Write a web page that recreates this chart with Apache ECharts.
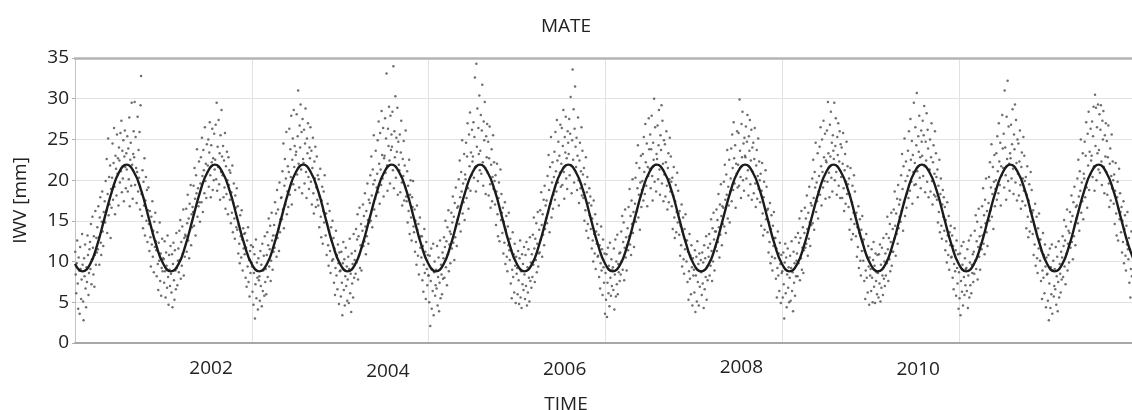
<!DOCTYPE html>
<html>
<head>
<meta charset="utf-8">
<script src="https://cdn.jsdelivr.net/npm/echarts@6/dist/echarts.min.js"></script>
<style>
html,body{margin:0;padding:0;background:#fff;}
#chart{width:1132px;height:410px;}
</style>
</head>
<body>
<div id="chart"></div>
<script>
// Station / labels
const chartTitle = 'MATE';
const xTitle = 'TIME';
const yTitle = 'IWV [mm]';
const xTickLabels = ['2002', '2004', '2006', '2008', '2010'];
const yMin = 0, yMax = 35, yStep = 5;
const tStart = 2000, tEnd = 2011.96;

// IWV observations [mm], 15 samples per month, Jan..Dec of each year
const iwv2000 = [
11.2,8.4,6.1,9.8,12.6,7.3,4.2,10.5,8.9,3.6,11.8,9.1,5.4,7.8,13.4,
9.6,5.1,2.8,10.4,8.2,12.1,6.7,4.4,9.3,7.5,13.2,10.8,5.9,8.6,11.5,
12.4,9.1,14.6,7.2,10.3,15.5,11.7,8.4,13.1,6.9,10.8,16.2,9.6,12.9,11.1,
14.2,11.5,16.8,13.0,9.6,15.4,17.9,12.3,10.8,14.9,18.6,13.7,11.9,16.1,15.0,
17.4,14.8,19.9,16.2,22.6,13.5,18.3,25.1,15.7,20.4,17.0,21.8,12.9,18.9,16.6,
20.3,24.5,17.6,22.1,26.4,19.2,15.8,23.0,21.4,18.1,25.6,20.8,22.7,16.9,24.0,
22.4,19.7,25.8,21.1,27.3,18.5,23.6,20.2,24.9,17.4,22.9,26.1,21.6,19.0,23.3,
21.3,25.4,18.6,23.9,20.1,27.7,16.8,22.5,24.6,19.3,29.5,21.9,17.7,23.2,26.0,
22.8,29.6,19.4,25.3,21.5,17.2,21.0,27.8,18.6,23.7,20.3,25.9,16.4,29.2,32.8,
18.3,15.6,21.2,14.1,19.8,16.9,22.7,13.2,17.5,20.4,15.0,18.8,12.4,16.3,19.1,
14.6,11.3,16.2,13.0,9.4,15.5,12.1,17.4,10.6,13.8,8.7,14.9,11.8,16.0,12.5,
11.4,8.2,13.6,9.7,6.5,12.3,10.1,14.8,7.6,11.0,5.8,9.2,12.8,8.8,10.4
];
const iwv2001 = [
10.3,7.4,12.5,8.8,5.6,11.1,9.5,6.8,13.2,8.1,4.7,10.8,9.0,7.0,11.9,
8.5,6.2,10.9,4.4,9.7,12.3,7.7,5.3,11.4,8.9,6.6,13.5,9.2,7.1,10.1,
11.6,8.7,13.8,10.2,15.1,7.9,12.4,9.5,14.3,11.0,16.4,8.3,12.9,10.6,13.3,
13.1,16.5,11.2,14.7,18.2,12.6,15.3,10.4,17.1,13.9,19.4,12.0,15.8,14.2,16.7,
16.1,19.3,14.4,21.5,17.7,13.2,20.6,18.4,23.8,15.5,19.0,16.8,22.3,17.3,14.9,
19.6,22.8,17.3,25.2,20.5,16.1,23.7,21.2,18.4,26.5,19.9,22.0,17.8,24.4,20.9,
21.8,25.0,19.2,23.4,27.1,20.6,17.9,24.3,22.2,26.3,18.8,22.7,20.0,25.7,21.3,
22.5,26.8,20.1,29.5,18.7,24.1,21.6,27.4,19.5,23.3,17.6,25.5,21.0,28.6,22.9,
20.6,24.2,17.9,22.4,19.1,25.8,16.5,21.7,18.3,23.5,20.0,15.8,22.8,19.4,21.2,
17.6,20.9,14.7,18.5,16.0,21.8,13.6,17.2,19.6,15.3,12.8,18.1,16.6,14.2,19.0,
13.9,16.8,11.0,14.5,12.2,9.8,15.7,13.1,10.5,16.3,12.7,8.9,14.1,11.6,13.4,
10.9,13.5,8.0,11.7,6.9,12.6,9.4,14.2,7.5,10.2,5.7,11.3,8.6,12.0,9.9
];
const iwv2002 = [
9.4,6.3,11.8,4.7,8.6,10.9,3.0,7.2,12.7,5.5,9.9,8.0,4.1,10.4,7.7,
8.2,5.2,11.3,7.0,9.6,4.5,12.2,6.4,8.9,10.7,5.8,13.1,7.5,9.1,6.0,
10.8,13.6,8.1,12.0,15.3,9.4,11.5,14.4,7.6,10.1,16.0,12.6,9.0,13.2,11.2,
14.5,11.7,17.3,13.2,15.9,10.6,18.8,12.9,16.4,14.0,11.3,19.7,13.6,15.2,17.8,
17.9,15.2,21.1,16.4,24.5,14.1,19.3,22.6,17.0,20.2,25.9,15.8,18.6,21.7,16.7,
21.0,26.3,18.2,23.8,20.4,27.9,17.0,22.5,25.1,19.5,28.6,21.6,24.2,18.8,23.1,
23.5,28.1,20.7,25.4,31.0,22.0,19.1,26.7,24.0,29.3,21.3,25.9,18.4,27.5,22.6,
22.1,26.2,19.6,24.5,28.8,21.0,17.8,25.1,23.3,27.0,20.4,18.9,24.0,22.7,26.5,
19.8,23.6,17.0,21.5,25.2,18.4,15.9,22.3,20.2,24.1,16.7,19.1,22.9,17.6,20.6,
16.9,20.1,14.2,18.0,21.4,15.5,13.0,17.5,19.2,12.2,16.2,18.6,14.8,20.6,15.9,
13.2,15.9,10.8,14.6,17.1,12.0,9.5,13.8,16.2,11.3,8.6,14.2,12.6,10.1,15.0,
10.3,12.9,7.4,11.6,5.9,9.2,13.8,8.3,10.8,6.6,12.1,9.8,4.8,11.1,8.8
];
const iwv2003 = [
8.9,5.7,11.2,7.4,3.4,9.8,12.4,6.5,10.3,4.6,8.2,11.7,7.0,9.4,5.2,
7.8,10.6,4.9,9.1,12.8,6.1,8.5,3.8,11.0,7.3,9.7,5.6,13.4,8.0,10.2,
11.3,8.5,14.0,9.9,12.7,15.8,7.8,13.1,10.7,16.6,9.2,12.0,14.6,8.9,11.8,
13.8,17.0,11.9,15.6,12.5,18.4,14.3,10.9,16.2,13.1,19.6,15.1,12.2,17.6,14.8,
17.2,20.6,15.0,22.9,18.1,14.2,21.3,19.5,25.5,16.4,20.0,17.7,23.6,15.6,19.1,
20.8,24.9,18.5,27.2,22.0,17.1,25.8,21.3,19.4,28.5,23.1,20.2,26.4,18.0,22.7,
23.0,27.6,20.9,25.1,33.1,21.8,18.7,26.3,24.2,29.0,22.4,19.6,27.9,23.7,25.6,
24.1,28.4,21.2,34.0,19.0,26.0,22.8,30.3,20.3,25.2,23.5,28.9,18.2,24.7,21.9,
21.2,25.6,18.5,23.4,27.3,19.7,16.9,22.6,20.5,24.8,17.5,21.8,19.2,26.1,18.0,
17.4,21.1,14.8,19.3,16.2,22.5,13.4,18.2,20.0,15.4,12.6,17.9,16.7,19.9,14.3,
13.6,16.4,11.2,15.0,12.4,9.6,16.9,13.9,10.7,14.6,8.4,12.9,15.4,11.7,13.1,
10.5,13.1,7.7,11.9,6.3,9.6,14.0,8.6,11.2,5.4,12.4,9.1,7.1,10.8,8.3
];
const iwv2004 = [
8.3,5.0,10.7,2.1,7.6,11.6,4.2,9.1,6.4,12.2,3.4,8.7,10.0,5.8,7.1,
9.0,6.7,11.9,4.6,8.1,10.5,3.9,7.4,12.6,5.5,9.6,8.4,6.0,11.1,7.9,
10.4,13.0,8.0,11.8,15.0,9.3,12.5,7.1,14.2,10.9,16.3,8.8,12.1,13.7,9.8,
13.4,16.0,11.6,14.8,18.0,12.3,15.5,10.2,17.2,13.0,19.1,14.4,11.9,16.6,15.2,
16.8,20.1,14.6,22.4,17.9,13.7,21.0,18.6,24.9,15.9,19.6,17.3,23.2,15.1,20.7,
20.1,24.6,17.8,22.9,27.0,19.0,16.5,25.6,21.7,28.3,18.7,23.4,20.6,26.2,22.3,
22.9,27.1,20.3,25.3,32.6,21.6,18.6,34.3,24.1,28.8,19.9,26.4,23.2,30.4,21.2,
23.6,28.0,20.8,26.1,31.7,22.2,19.3,27.2,24.9,29.6,21.5,18.3,25.4,22.8,26.9,
20.9,24.7,18.1,22.7,26.6,19.5,16.6,21.9,23.8,17.4,20.4,25.5,18.9,22.2,19.9,
17.0,20.6,14.5,18.6,22.0,15.8,13.1,17.8,19.7,12.5,16.4,21.3,15.1,18.3,16.0,
13.5,16.6,11.0,14.9,12.3,17.3,9.7,13.9,15.6,10.6,8.8,14.3,12.0,16.0,11.4,
10.2,12.8,7.3,11.4,5.5,9.0,13.6,8.1,10.9,6.2,12.2,9.5,4.9,10.6,8.5
];
const iwv2005 = [
9.2,6.0,11.3,7.7,4.8,10.4,12.6,5.6,8.8,4.3,10.9,7.2,9.7,6.5,11.8,
8.4,5.4,10.8,7.0,12.4,4.6,9.3,6.2,11.5,8.0,5.1,13.0,7.6,9.9,6.8,
10.9,8.1,13.3,9.6,15.4,11.6,7.5,12.8,10.2,14.7,8.7,12.2,16.1,9.4,11.0,
13.9,11.1,16.3,12.7,18.5,14.5,10.6,15.8,13.3,17.6,12.0,19.3,14.0,16.9,15.3,
17.5,14.7,20.5,16.0,23.1,18.8,13.6,21.6,17.1,25.3,15.4,19.7,22.2,16.5,18.2,
20.4,23.5,17.6,25.9,21.1,18.6,27.4,22.4,19.7,24.7,16.9,23.0,20.9,26.8,19.2,
22.0,26.4,19.4,24.2,28.6,21.0,17.7,25.3,23.4,27.8,20.2,22.7,18.9,26.0,24.6,
23.2,27.5,20.6,25.7,30.2,21.8,18.4,24.9,33.6,22.5,28.7,19.7,26.3,31.5,24.1,
21.6,25.2,18.8,23.0,27.7,20.0,17.2,22.4,24.6,19.0,21.1,26.5,18.1,23.6,20.7,
17.8,21.5,15.0,19.5,16.3,22.8,13.8,18.5,20.4,14.6,12.9,17.2,19.0,15.7,18.0,
14.0,16.9,11.6,15.3,12.6,10.0,17.5,13.4,11.0,15.8,9.1,13.7,12.2,14.6,10.6,
10.7,13.3,8.1,12.0,6.7,9.8,14.3,8.9,11.5,5.9,12.7,9.3,7.4,11.0,3.6
];
const iwv2006 = [
8.6,5.3,10.9,3.2,7.4,11.7,6.1,9.5,4.5,12.3,8.0,5.8,10.3,7.0,9.0,
9.3,6.5,11.6,4.1,8.4,12.7,5.7,10.0,7.2,13.3,6.0,9.7,8.7,11.0,7.6,
11.1,8.4,13.7,10.0,15.6,9.0,12.4,14.8,7.7,11.7,16.4,10.5,13.0,8.9,12.0,
14.1,11.4,16.7,13.1,18.9,12.1,15.6,10.8,17.5,14.6,20.1,13.5,16.1,11.8,15.0,
17.1,20.3,14.9,22.1,16.2,19.0,24.3,15.4,18.2,21.5,13.9,19.7,23.0,16.7,18.8,
19.9,23.2,17.5,25.3,21.0,18.3,26.9,22.2,19.3,24.5,16.8,21.6,20.5,27.6,23.8,
21.4,25.6,19.0,23.8,27.9,20.5,17.5,24.6,22.5,30.0,19.8,26.5,21.9,18.6,23.2,
22.6,26.7,20.1,24.3,28.6,21.3,18.2,25.5,23.7,29.2,19.6,27.3,22.0,17.4,24.9,
20.7,24.4,18.0,22.2,26.0,19.3,16.4,21.5,23.3,17.3,20.1,25.2,18.6,22.9,19.8,
16.8,20.3,14.0,18.1,21.6,15.4,12.9,17.4,19.4,13.6,16.1,20.9,14.8,18.7,15.9,
13.3,16.2,10.7,14.4,12.0,17.0,9.4,13.7,15.4,10.3,8.5,14.0,11.5,15.8,12.6,
10.0,12.6,7.5,11.2,5.3,8.8,13.4,7.9,10.7,6.0,12.0,9.3,4.6,10.4,8.3
];
const iwv2007 = [
9.0,6.2,11.4,3.8,8.3,10.6,5.1,12.5,7.5,9.7,4.6,11.0,6.9,8.8,10.2,
8.7,5.9,11.1,7.3,9.9,4.3,12.0,6.6,10.4,8.1,13.1,5.3,9.4,7.7,11.7,
10.6,13.4,8.3,12.2,9.5,15.2,11.3,7.6,14.1,10.0,16.0,12.7,8.9,13.7,11.8,
13.7,16.4,11.3,15.1,12.4,18.3,14.2,10.5,17.0,13.3,19.5,15.6,12.0,16.8,14.6,
16.6,19.8,14.3,21.9,17.6,13.5,20.7,18.2,23.7,15.3,19.2,16.9,22.5,14.8,18.6,
20.2,23.9,17.4,25.6,21.5,18.8,27.1,22.7,19.6,24.3,16.6,22.0,20.8,26.0,19.1,
21.9,25.8,19.3,29.9,23.6,20.4,17.8,26.9,22.8,28.4,20.0,24.5,18.7,25.2,23.0,
22.8,26.6,20.2,24.7,28.0,21.2,18.1,25.4,23.6,27.4,19.5,22.4,26.2,17.6,24.0,
21.0,24.6,18.4,22.6,26.4,19.6,16.7,21.8,23.7,17.7,20.5,25.1,18.9,22.3,20.0,
17.3,20.8,14.4,18.7,22.1,15.9,13.2,17.9,19.8,13.9,16.5,21.2,15.2,19.2,16.3,
13.6,16.5,11.1,14.8,12.4,17.2,9.8,14.0,15.7,10.6,8.9,14.4,11.9,16.1,12.9,
10.4,12.9,7.9,11.6,5.6,9.2,13.7,8.3,11.0,6.4,12.3,9.7,4.9,10.8,8.6
];
const iwv2008 = [
8.8,5.6,11.1,7.2,3.0,9.9,12.2,6.1,10.5,4.4,8.4,11.6,6.8,9.3,5.0,
8.0,10.7,5.2,9.2,12.5,6.4,8.7,3.9,11.2,7.4,9.8,5.8,13.0,8.2,10.1,
11.0,8.2,13.5,9.8,12.3,15.3,7.7,12.9,10.4,16.2,9.0,11.7,14.2,8.6,11.4,
13.5,16.6,11.7,15.3,12.2,18.1,14.0,10.7,16.0,12.8,19.2,14.8,11.9,17.2,14.5,
16.9,20.2,14.7,22.5,17.8,13.9,21.0,19.1,24.6,16.1,19.7,17.4,23.3,15.3,18.6,
20.5,24.1,18.2,26.5,21.7,16.9,25.0,21.0,19.1,27.3,22.8,19.9,25.7,17.7,22.4,
22.2,26.1,19.8,29.6,23.3,20.9,17.9,26.8,22.9,28.4,20.3,24.6,18.6,25.5,23.6,
22.6,29.5,20.0,24.2,27.6,21.0,18.2,25.3,23.1,27.0,19.3,22.3,26.0,17.8,24.4,
20.4,24.0,17.8,22.0,25.8,19.0,16.2,21.2,23.2,17.1,19.8,24.7,18.3,21.7,19.5,
16.7,20.2,13.9,18.2,21.5,15.2,12.7,17.3,19.3,13.4,16.0,20.6,14.6,18.6,15.7,
13.1,16.0,10.6,14.2,11.8,16.8,9.2,13.5,15.2,10.1,8.3,13.9,11.3,15.6,12.4,
10.1,12.7,7.6,11.3,5.4,8.9,13.4,8.0,10.6,6.2,11.9,9.4,4.7,10.5,8.3
];
const iwv2009 = [
9.1,6.4,11.5,8.0,5.0,10.2,12.4,6.9,9.5,4.9,11.0,7.6,8.7,6.0,10.8,
8.6,5.6,10.9,7.3,12.1,5.1,9.6,6.8,11.7,8.3,5.9,12.9,7.9,10.0,7.0,
11.0,8.3,13.4,9.8,15.5,11.5,7.6,12.9,10.3,14.6,8.8,12.4,16.0,9.5,11.2,
14.0,11.2,16.4,12.8,18.6,14.4,10.7,15.9,13.4,17.7,12.2,19.4,14.1,17.0,15.5,
17.6,14.9,20.6,16.2,23.2,18.9,13.8,21.7,17.3,25.1,15.6,19.9,22.3,16.6,18.4,
20.5,23.6,17.8,26.0,21.2,18.7,27.5,22.5,19.8,24.8,17.1,23.1,21.0,29.5,19.4,
22.1,26.5,19.5,24.3,30.7,21.1,17.9,25.4,23.5,27.9,20.3,22.8,19.0,26.1,24.7,
23.0,27.3,20.5,25.5,29.1,21.7,18.5,24.7,22.4,28.2,19.8,26.2,23.9,17.9,21.2,
21.3,25.0,18.6,22.8,27.0,19.9,17.0,22.2,24.3,18.2,20.8,26.0,18.0,23.3,20.4,
17.6,21.3,14.8,19.3,16.1,22.5,13.6,18.3,20.2,14.4,12.8,17.0,18.8,15.5,17.9,
13.8,16.7,11.4,15.1,12.5,9.9,17.3,13.2,10.8,15.6,9.0,13.6,12.0,14.4,10.5,
10.6,13.2,8.0,11.9,6.6,9.7,14.1,8.8,11.4,5.8,12.6,9.2,7.3,10.9,4.2
];
const iwv2010 = [
8.7,5.5,11.0,3.4,7.6,11.9,6.3,9.6,4.6,12.4,8.1,5.9,10.4,7.1,9.1,
9.2,6.4,11.5,4.3,8.3,12.6,5.6,9.9,7.1,13.2,6.1,9.6,8.6,10.9,7.5,
11.2,8.5,13.8,10.1,15.7,9.1,12.5,14.9,7.8,11.8,16.5,10.6,13.1,9.0,12.1,
14.2,11.5,16.8,13.2,19.0,12.2,15.7,10.9,17.6,14.7,20.2,13.6,16.2,11.9,15.1,
17.2,20.4,15.0,22.2,16.3,19.1,24.4,15.5,18.3,21.6,14.0,19.8,23.1,16.8,18.9,
20.0,23.3,17.6,25.4,21.1,18.4,27.0,22.3,19.4,24.6,16.9,21.7,20.6,28.0,23.9,
21.5,25.7,19.1,31.0,24.0,20.6,17.6,27.8,22.6,32.2,19.9,26.6,22.0,18.7,23.3,
22.7,26.8,20.2,24.4,28.7,21.4,18.3,25.6,23.8,29.3,19.7,27.4,22.1,17.5,25.0,
20.8,24.5,18.1,22.3,26.1,19.4,16.5,21.6,23.4,17.4,20.2,25.3,18.7,23.0,19.9,
16.9,20.4,14.1,18.2,21.7,15.5,13.0,17.5,19.5,13.7,16.2,21.0,14.9,18.8,16.0,
13.4,16.3,10.8,14.5,12.1,17.1,9.5,13.8,15.5,10.4,8.6,14.1,11.6,15.9,12.7,
10.1,12.7,7.6,11.3,5.4,8.9,13.5,8.0,10.8,6.1,12.1,9.4,4.4,10.5,8.4
];
const iwv2011 = [
8.5,5.2,10.8,2.8,7.3,11.6,4.3,9.3,6.0,12.1,3.6,8.9,10.1,5.7,7.0,
9.1,6.6,11.8,4.7,8.2,10.6,3.9,7.5,12.5,5.6,9.7,8.5,6.2,11.2,7.8,
10.5,13.1,8.1,11.9,15.1,9.4,12.6,7.2,14.3,11.0,16.4,8.9,12.2,13.8,9.9,
13.5,16.1,11.7,14.9,18.1,12.4,15.6,10.3,17.3,13.1,19.2,14.5,12.0,16.7,15.3,
16.9,20.2,14.7,22.5,18.0,13.8,21.1,18.7,25.0,16.0,19.7,17.4,23.3,15.2,20.8,
20.2,24.7,17.9,23.0,27.1,19.1,16.6,25.7,21.8,28.4,18.8,23.5,20.7,26.3,22.4,
23.0,27.2,20.4,25.4,29.0,21.7,18.7,30.5,24.2,28.9,20.0,26.5,23.3,29.3,21.3,
23.7,28.1,20.9,26.2,29.2,22.3,19.4,27.3,25.0,28.5,21.6,18.4,25.5,22.9,27.0,
21.0,24.8,18.2,22.8,26.7,19.6,16.7,22.0,23.9,17.5,20.5,25.6,19.0,22.3,20.0,
17.1,20.7,14.6,18.7,22.1,15.9,13.2,17.9,19.8,12.6,16.5,21.4,15.2,18.4,16.1,
13.6,16.7,11.1,15.0,12.4,17.4,9.8,14.0,15.7,10.7,8.9,14.4,12.1,16.1,11.5,
10.3,12.9,7.4,11.5,5.6,9.1,13.7,8.2,11.0,6.3,12.3,9.6,5.0,10.7,8.6
];
const obsYears = [2000, 2001, 2002, 2003, 2004, 2005, 2006, 2007, 2008, 2009, 2010, 2011];
const obsByYear = [iwv2000, iwv2001, iwv2002, iwv2003, iwv2004, iwv2005, iwv2006, iwv2007, iwv2008, iwv2009, iwv2010, iwv2011];

// Fitted seasonal curve [mm], read at the start of each month from Jan 2000 to Jan 2012
const fitCurve = [
9.7,8.8,9.6,12.0,15.3,18.6,21.0,21.9,21.0,18.7,15.4,12.1,
9.7,8.8,9.6,12.0,15.3,18.6,21.0,21.9,21.0,18.7,15.4,12.1,
9.7,8.8,9.6,12.0,15.3,18.6,21.0,21.9,21.0,18.7,15.4,12.1,
9.7,8.8,9.6,12.0,15.3,18.6,21.0,21.9,21.0,18.7,15.4,12.1,
9.7,8.8,9.6,12.0,15.3,18.6,21.0,21.9,21.0,18.7,15.4,12.1,
9.7,8.8,9.6,12.0,15.3,18.6,21.0,21.9,21.0,18.7,15.4,12.1,
9.7,8.8,9.6,12.0,15.3,18.6,21.0,21.9,21.0,18.7,15.4,12.1,
9.7,8.8,9.6,12.0,15.3,18.6,21.0,21.9,21.0,18.7,15.4,12.1,
9.7,8.8,9.6,12.0,15.3,18.6,21.0,21.9,21.0,18.7,15.4,12.1,
9.7,8.8,9.6,12.0,15.3,18.6,21.0,21.9,21.0,18.7,15.4,12.1,
9.7,8.8,9.6,12.0,15.3,18.6,21.0,21.9,21.0,18.7,15.4,12.1,
9.7,8.8,9.6,12.0,15.3,18.6,21.0,21.9,21.0,18.7,15.4,12.1,
9.7
];

// ---- build series data ----
const scatterData = [];
obsByYear.forEach((vals, yi) => {
  const y = obsYears[yi];
  vals.forEach((v, i) => scatterData.push([y + (i + 0.5) / vals.length, v]));
});
const fitData = fitCurve.map((v, i) => [tStart + i / 12, v]);

const FONT = '"Open Sans", "Liberation Sans", sans-serif';
const TXT = '#222222';
const FS = 19;
const labelShift = 0.46; // labels drawn left of the year gridline, as in the source figure
const labelPad = [5, 8, 6, 4, 6];
const rich = {};
labelPad.forEach((p, i) => { rich['s' + i] = { padding: [p, 0, 0, 0], fontSize: FS, fontFamily: FONT, color: TXT }; });

const chart = echarts.init(document.getElementById('chart'), null, { renderer: 'canvas' });
chart.setOption({
  animation: false,
  backgroundColor: '#ffffff',
  title: [
    { text: chartTitle, left: 'center', top: 12, textStyle: { fontFamily: FONT, fontSize: FS, fontWeight: 'normal', color: TXT } },
    { text: xTitle, left: 'center', top: 390, textStyle: { fontFamily: FONT, fontSize: FS, fontWeight: 'normal', color: TXT } }
  ],
  grid: { left: 75, right: 0, top: 58, bottom: 67 },
  xAxis: [
    {
      type: 'value', position: 'bottom', min: tStart, max: tEnd, interval: 2,
      axisLine: { onZero: false, lineStyle: { color: '#a8a8a8', width: 2 } },
      axisTick: { show: false },
      splitLine: { show: true, lineStyle: { color: '#e2e2e2', width: 1 } },
      axisLabel: {
        customValues: xTickLabels.map(s => Number(s) - labelShift),
        margin: 11,
        fontFamily: FONT, fontSize: FS, color: TXT,
        formatter: function (v) {
          const idx = xTickLabels.indexOf(String(Math.round(v + labelShift)));
          return idx < 0 ? '' : '{s' + idx + '|' + xTickLabels[idx] + '}';
        },
        rich: rich
      }
    },
    {
      type: 'value', position: 'top', min: tStart, max: tEnd,
      axisLine: { show: true, onZero: false, lineStyle: { color: '#b4b4b4', width: 2.5 } },
      axisTick: { show: false }, axisLabel: { show: false }, splitLine: { show: false }
    }
  ],
  yAxis: {
    type: 'value', min: yMin, max: yMax, interval: yStep,
    name: yTitle, nameLocation: 'middle', nameGap: 45, nameRotate: 90,
    nameTextStyle: { fontFamily: FONT, fontSize: FS, color: TXT },
    axisLine: { show: true, lineStyle: { color: '#c4c4c4', width: 1 } },
    axisTick: { show: true, length: 3, lineStyle: { color: '#b0b0b0' } },
    splitLine: { show: true, lineStyle: { color: '#e2e2e2', width: 1 } },
    axisLabel: { margin: 6, fontFamily: FONT, fontSize: FS, color: TXT }
  },
  series: [
    {
      type: 'scatter', data: scatterData, symbol: 'circle', symbolSize: 2.5,
      itemStyle: { color: '#555555', opacity: 0.85 }, silent: true, z: 2
    },
    {
      type: 'line', data: fitData, smooth: 0.5, showSymbol: false, symbol: 'none',
      lineStyle: { color: '#1c1c1c', width: 2.4 }, silent: true, z: 3
    }
  ]
});
</script>
</body>
</html>
